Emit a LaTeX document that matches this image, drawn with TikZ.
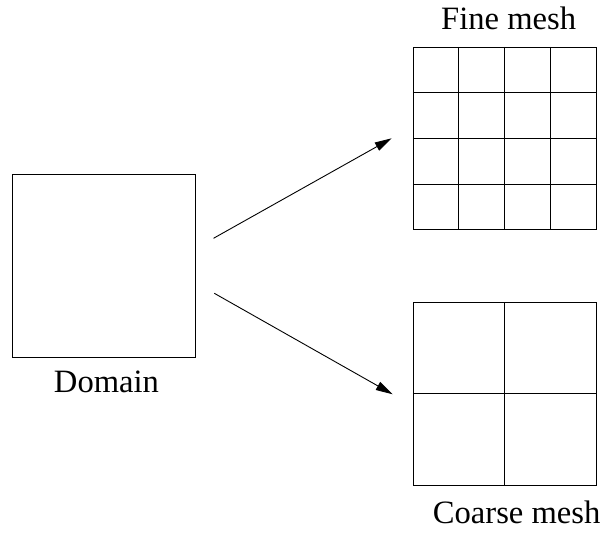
\documentclass[tikz,border=0pt]{standalone}
\usepackage{fontspec}
\setmainfont{Liberation Serif}
\usetikzlibrary{arrows.meta,calc}
\begin{document}
\begin{tikzpicture}[x=1pt,y=-1pt,
  box/.style={draw, line width=0.9pt, minimum width=182.7pt, minimum height=182.5pt, inner sep=0pt},
  gridline/.style={line width=0.9pt},
  arr/.style={line width=0.9pt, -{Triangle[length=17pt,width=9pt]}},
  lbl/.style={font=\fontsize{32.6}{38}\selectfont, inner sep=0pt, anchor=base}]
\useasboundingbox (0,0) rectangle (602,533);

% the three squares
\node[box] (domain) at (103.7,265.9) {};
\node[box] (fine)   at (504.7,138.5) {};
\node[box] (coarse) at (504.7,393.9) {};

% fine mesh: 4 x 4 cells
\foreach \k in {1,2,3} {
  \draw[gridline] ($(fine.north west)!\k/4!(fine.north east)$) -- ($(fine.south west)!\k/4!(fine.south east)$);
  \draw[gridline] ($(fine.north west)!\k/4!(fine.south west)$) -- ($(fine.north east)!\k/4!(fine.south east)$);
}

% coarse mesh: 2 x 2 cells
\draw[gridline] (coarse.north) -- (coarse.south);
\draw[gridline] (coarse.west) -- (coarse.east);

% labels
\node[lbl] (tfine)   at (508.7,29) {Fine mesh};
\node[lbl] (tdomain) at (106.5,392) {Domain};
\node[lbl, anchor=base west] (tcoarse) at (432.7,523) {Coarse mesh};

% arrows from the domain to the two meshes
\coordinate (a1) at (213.5,238.3);
\coordinate (b1) at (391.7,138.3);
\coordinate (a2) at (214.3,293.3);
\coordinate (b2) at (392.7,394.3);
\draw[arr] (a1) -- (b1);
\draw[arr] (a2) -- (b2);
\end{tikzpicture}
\end{document}
